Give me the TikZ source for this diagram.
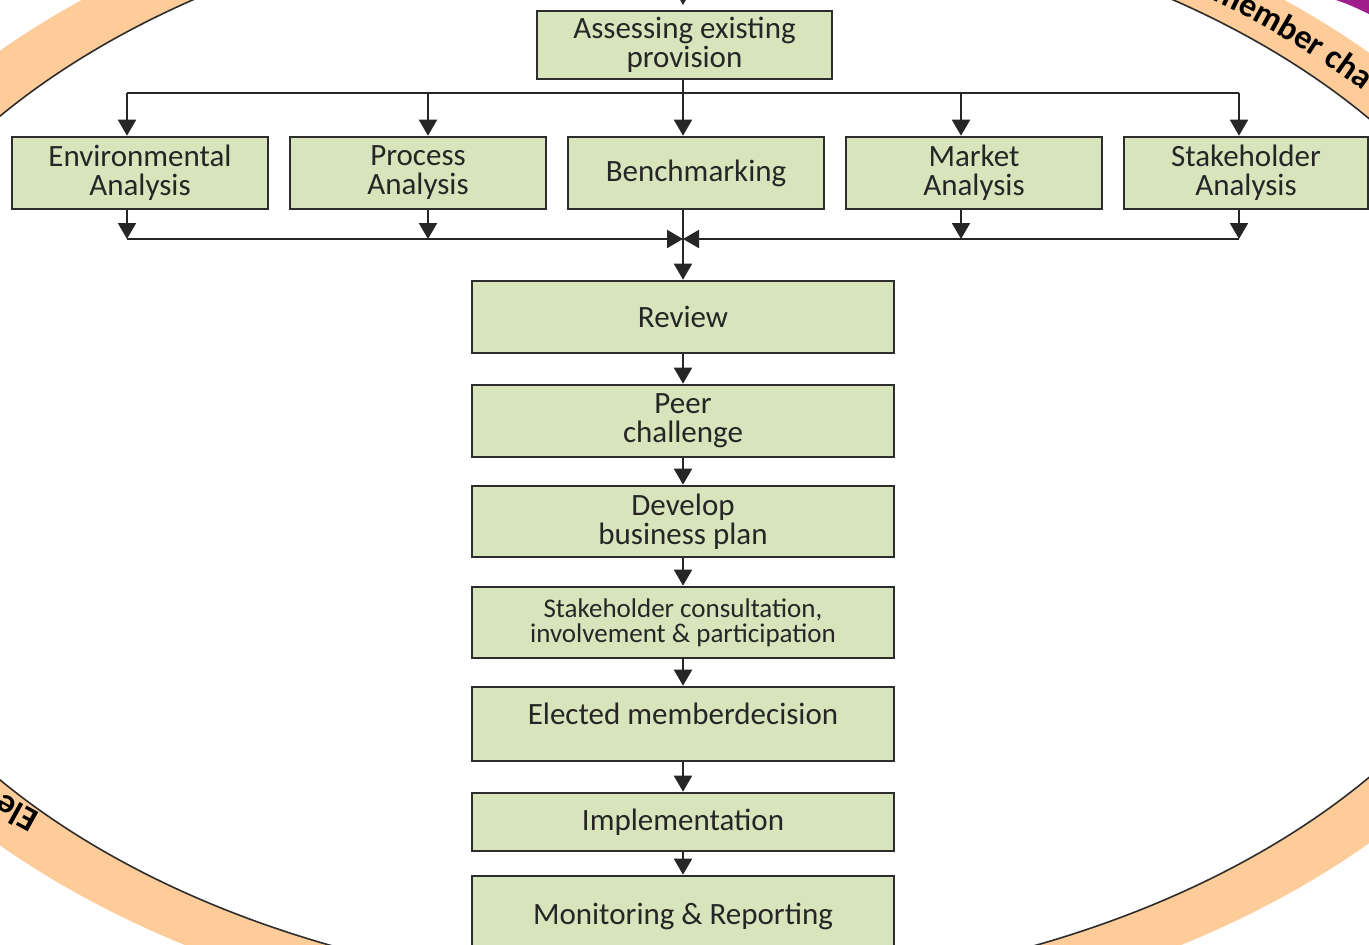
\documentclass[tikz,border=0pt]{standalone}
\usepackage{fontspec}
\setmainfont{Carlito}
\usetikzlibrary{arrows.meta,decorations.text}
\definecolor{boxfill}{RGB}{216,228,188}
\definecolor{ringfill}{RGB}{253,204,153}
\definecolor{ringpurple}{RGB}{160,30,140}
\definecolor{edgegray}{RGB}{45,45,45}
\newcommand\ringfont{\fontsize{34pt}{34pt}\selectfont\bfseries}
\newcommand\boxfont{\fontsize{31pt}{29pt}\selectfont}
\newcommand\smallboxfont{\fontsize{27pt}{25pt}\selectfont}
\begin{document}
\begin{tikzpicture}[x=1pt,y=-1pt,
  box/.style={draw=edgegray, line width=2.6pt, fill=boxfill, inner sep=0pt, align=center, font=\boxfont, text=black!85},
  conn/.style={draw=black!85, line width=2pt},
  arr/.style={conn, -{Triangle[width=18pt,length=16pt]}},
]
\useasboundingbox (0,0) rectangle (1369,945);
\clip (0,0) rectangle (1369,945);
\fill[white] (0,0) rectangle (1369,945);
% purple corner of an outer ring
\fill[ringpurple] (1336,0) .. controls (1350,5) .. (1369,14) -- (1369,0) -- cycle;
% orange ring
\fill[ringfill, even odd rule] (683,448) ellipse [x radius=924pt, y radius=590pt] (683,448) ellipse [x radius=861pt, y radius=545pt];
\draw[edgegray, line width=1.6pt] (683,448) ellipse [x radius=861pt, y radius=545pt];
\path[decorate, decoration={text along path, text={|\ringfont|member cha}, text align=left}]
  ([shift={(53.3:884pt and 559pt)}]683,448) arc[start angle=53.3, end angle=15, x radius=884pt, y radius=559pt];
\node[rotate=151, font=\ringfont, inner sep=0pt] (ele) at (16,814) {Ele};

% boxes
\node[box, minimum width=295pt, minimum height=68pt] (top) at (684.5,45) {Assessing existing\\provision};
\node[box, minimum width=256pt, minimum height=72pt] (env) at (140,173) {Environmental\\Analysis};
\node[box, minimum width=256pt, minimum height=72pt] (proc) at (418,173) {Process\\Analysis};
\node[box, minimum width=256pt, minimum height=72pt] (bench) at (696,173) {Benchmarking};
\node[box, minimum width=256pt, minimum height=72pt] (market) at (974,173) {Market\\Analysis};
\node[box, minimum width=244pt, minimum height=72pt] (stake) at (1246,173) {Stakeholder\\Analysis};

\node[box, minimum width=422pt, minimum height=72pt] (review) at (683,317) {Review};
\node[box, minimum width=422pt, minimum height=72pt] (peer) at (683,421) {Peer\\challenge};
\node[box, minimum width=422pt, minimum height=71pt] (dev) at (683,521.5) {Develop\\business plan};
\node[box, minimum width=422pt, minimum height=71pt, font=\smallboxfont] (cons) at (683,622.5) {Stakeholder consultation,\\involvement \& participation};
\node[box, minimum width=422pt, minimum height=74pt,
  label={[font=\boxfont, text=black!85, yshift=10pt]center:Elected memberdecision}] (elec) at (683,724) {};
\node[box, minimum width=422pt, minimum height=58pt] (impl) at (683,822) {Implementation};
\node[box, minimum width=422pt, minimum height=80pt] (mon) at (683,916) {Monitoring \& Reporting};

% top bus
\coordinate (tin) at (683,-30);
\coordinate (tend) at (683,5);
\coordinate (tb) at (683,93);
\coordinate (b1) at (127,93);
\coordinate (b2) at (428,93);
\coordinate (b4) at (961,93);
\coordinate (b5) at (1239,93);
\draw[arr] (tin) -- (tend);
\draw[conn] (tb |- top.south) -- (tb);
\draw[conn] (b1) -- (b5);
\draw[arr] (b1) -- (b1 |- env.north);
\draw[arr] (b2) -- (b2 |- proc.north);
\draw[arr] (tb) -- (tb |- bench.north);
\draw[arr] (b4) -- (b4 |- market.north);
\draw[arr] (b5) -- (b5 |- stake.north);

% bottom bus
\coordinate (cm) at (683,239);
\coordinate (c1) at (127,239);
\coordinate (c2) at (428,239);
\coordinate (c4) at (961,239);
\coordinate (c5) at (1239,239);
\draw[arr] (c1 |- env.south) -- (c1);
\draw[arr] (c2 |- proc.south) -- (c2);
\draw[arr] (c4 |- market.south) -- (c4);
\draw[arr] (c5 |- stake.south) -- (c5);
\draw[arr] (c1) -- (cm);
\draw[arr] (c5) -- (cm);
\draw[arr] (cm |- bench.south) -- (review.north);

% chain
\draw[arr] (review.south) -- (peer.north);
\draw[arr] (peer.south) -- (dev.north);
\draw[arr] (dev.south) -- (cons.north);
\draw[arr] (cons.south) -- (elec.north);
\draw[arr] (elec.south) -- (impl.north);
\draw[arr] (impl.south) -- (mon.north);
\end{tikzpicture}
\end{document}
